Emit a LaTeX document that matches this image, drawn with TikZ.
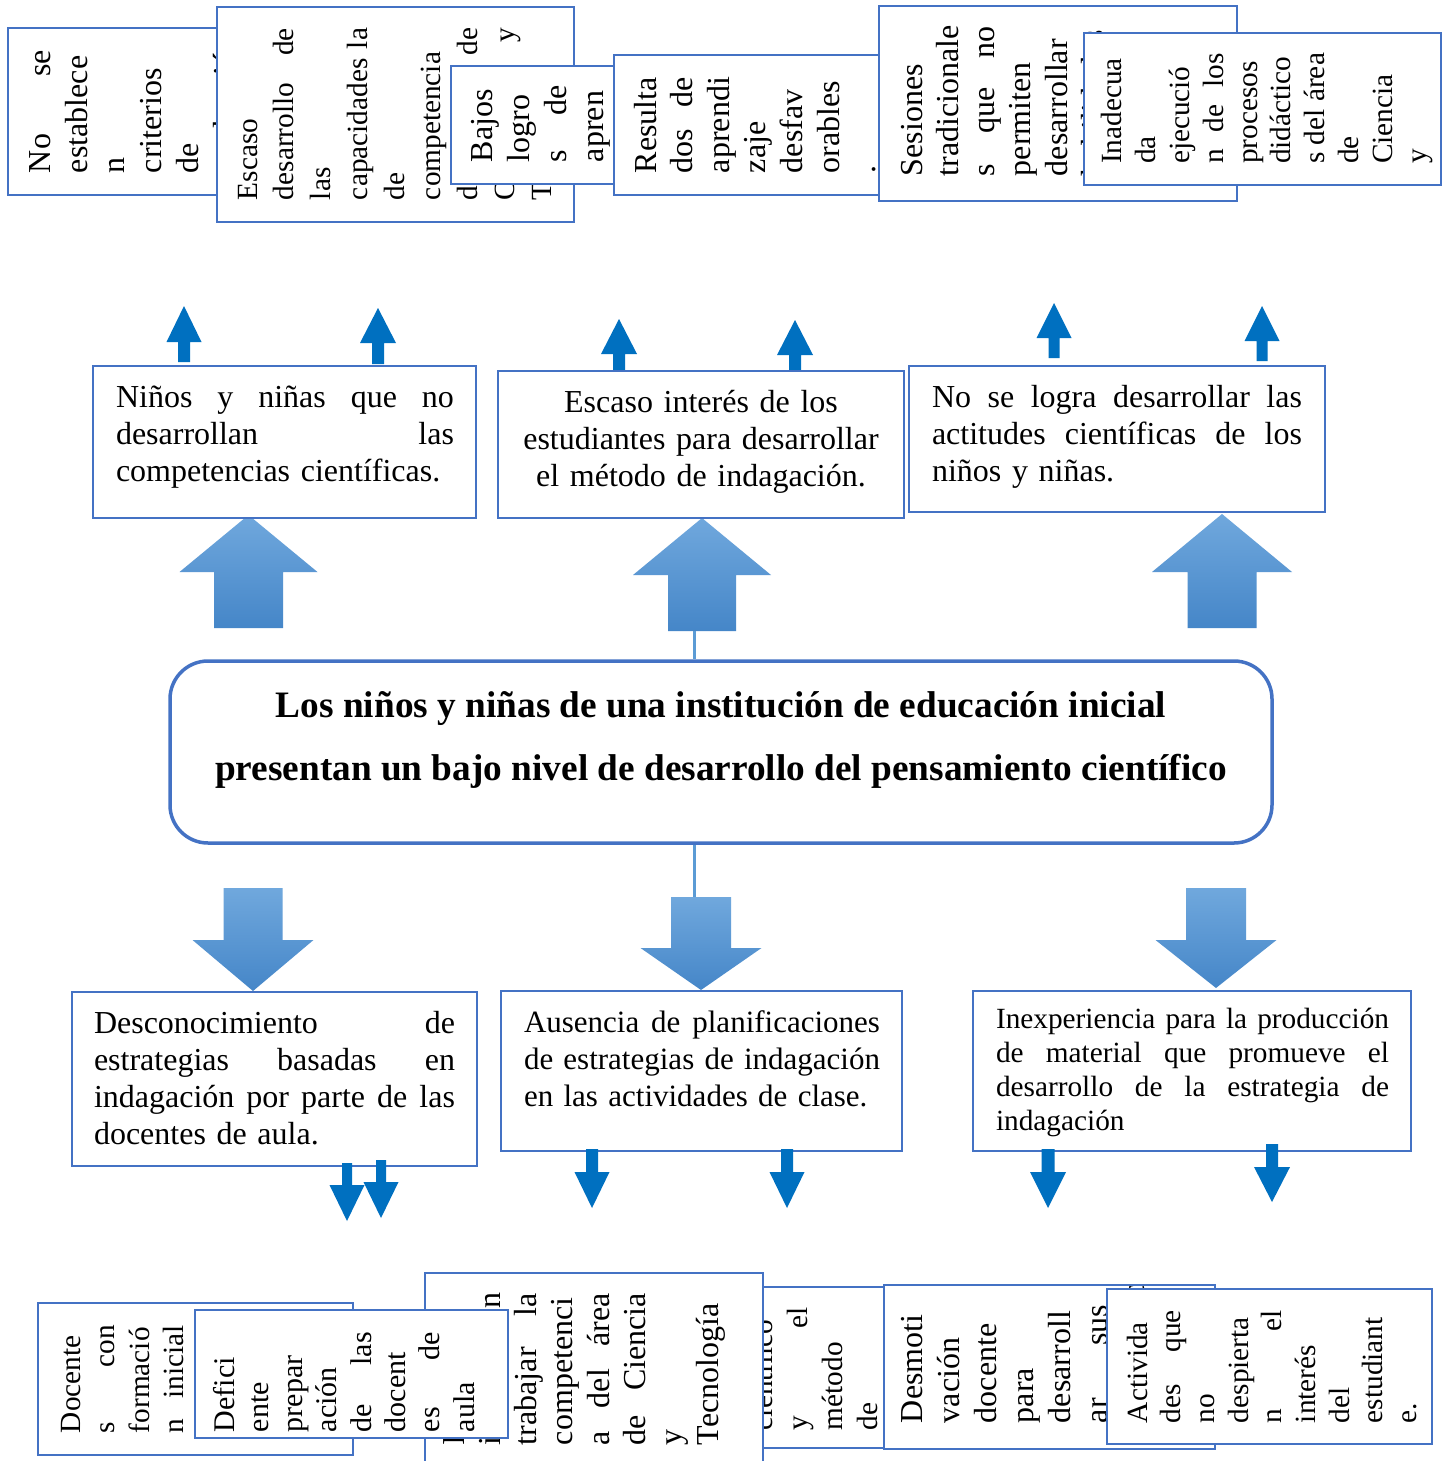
\documentclass[tikz,border=0pt]{standalone}
\usepackage{fontspec}
\setmainfont{Liberation Serif}
\usetikzlibrary{fit}
\definecolor{bordc}{HTML}{4472C4}
\definecolor{arrc}{HTML}{0070C0}
\definecolor{bigtop}{HTML}{70A8DD}
\definecolor{bigbot}{HTML}{4586C8}
\definecolor{connc}{HTML}{5B9BD5}
\newcommand\fs[2]{\fontsize{#1pt}{#2pt}\selectfont}
\newcommand\J[2]{{\spaceskip=0.25em plus 1fil\relax\xspaceskip=\spaceskip\makebox[#1pt][s]{#2}}}
\newcommand\blkarr[7]{\path[#1] (#2,#3) -- (#2+#5,#4) -- (#2+#6,#4) -- (#2+#6,#7) -- (#2-#6,#7) -- (#2-#6,#4) -- (#2-#5,#4) -- cycle;}
\tikzset{
  boxfill/.style={fill=white, draw=none, inner sep=0pt, outer sep=0pt},
  boxline/.style={draw=bordc, line width=2.5pt},
  hbx/.style={fill=white, draw=bordc, line width=2.5pt, inner sep=0pt, outer sep=0pt},
  txt/.style={inner sep=0pt, outer sep=0pt, align=left, anchor=north west},
  rtxt/.style={txt, rotate=90},
  smallarr/.style={fill=arrc, draw=none},
  bigarr/.style={top color=bigtop, bottom color=bigbot, draw=none},
  conn/.style={draw=connc, line width=3pt},
}
\newcommand\rotbox[8]{%
  \node[boxfill, fit={#2 #3}] (#1) {};
  \begin{scope}
    \clip (#1.south west) rectangle (#1.north east);
    \node[rtxt, font=#4, text width=#7pt] (#1t) at (#5,#6) {\strut #8};
  \end{scope}
  \draw[boxline] (#1.south west) rectangle (#1.north east);}
\begin{document}
\begin{tikzpicture}[x=1pt, y=-1pt]
\useasboundingbox (0,0) rectangle (1451,1461);
\clip (0,0) rectangle (1451,1461);
\fill[white] (0,0) rectangle (1451,1461);

% ---------- top row (rotated boxes) ----------
\rotbox{bA}{(8,28)}{(300,195)}{\fs{32}{37}}{24.1}{173}{123}{\J{123}{No se}\\ establece\\ n\\ criterios\\ de\\ evaluación}
\rotbox{bB}{(217,7)}{(574,222)}{\fs{29.3}{36.75}}{231.3}{200}{172}{Escaso\\ \J{172}{desarrollo de}\\ las\\ \J{172}{capacidades la}\\ de\\ competencia\\ \J{172}{del área de}\\ \J{172}{Ciencia y}\\ Tecnología}
\rotbox{bC}{(451,66)}{(614,184)}{\fs{32}{37}}{466.1}{162}{77}{Bajos\\ logro\\ \J{77}{s de}\\ apren}
\rotbox{bD}{(614,55)}{(879,195)}{\fs{32}{36.6}}{630.4}{173}{96}{Resulta\\ \J{96}{dos de}\\ aprendi\\ zaje\\ desfav\\ orables\\ .}
\rotbox{bE}{(879,6)}{(1237,201)}{\fs{32}{36.3}}{896.6}{176}{150}{Sesiones\\ tradicionale\\ \J{150}{s que no}\\ permiten\\ desarrollar\\ habilidades}
\rotbox{bF}{(1084,33)}{(1441,185)}{\fs{29.3}{33.8}}{1098.3}{164}{111}{Inadecua\\ da\\ ejecució\\ \J{111}{n de los}\\ procesos\\ didáctico\\ \J{111}{s del área}\\ de\\ Ciencia\\ y}

% ---------- small up arrows ----------
\blkarr{smallarr}{184}{306}{342}{17.5}{6}{362}
\blkarr{smallarr}{378}{308}{343}{18}{6}{364}
\blkarr{smallarr}{619}{319}{354}{18}{6}{371}
\blkarr{smallarr}{795}{320}{355}{18}{6}{371}
\blkarr{smallarr}{1054}{303}{338}{17.5}{5.5}{358}
\blkarr{smallarr}{1262}{306}{341}{17.5}{5.5}{361}

% ---------- big arrows ----------
\blkarr{bigarr}{248.5}{515}{572}{69}{34.5}{628}
\blkarr{bigarr}{702}{518}{575}{69}{34}{631}
\blkarr{bigarr}{1222}{514}{572}{70}{34.5}{628}
\blkarr{bigarr}{253}{991}{940}{60.5}{29.5}{888}
\blkarr{bigarr}{701}{990}{948}{60.5}{30}{897}
\blkarr{bigarr}{1216}{988}{940}{60.5}{30}{888}

% ---------- effect boxes ----------
\node[hbx, fit={(93,366) (476,518)}] (e1) {};
\node[txt, font=\fs{32}{37}, text width=338pt] (e1t) at (116,381.1)
  {\strut\J{338}{Niños y niñas que no}\\ \J{338}{desarrollan las}\\ competencias científicas.};
\node[hbx, fit={(498,371) (904,518)}] (e2) {};
\node[txt, anchor=north, align=center, font=\fs{32}{37}, text width=400pt] (e2t) at (701,386.1)
  {\strut Escaso interés de los\\ estudiantes para desarrollar\\ el método de indagación.};
\node[hbx, fit={(909,366) (1325,512)}] (e3) {};
\node[txt, font=\fs{32}{37}, text width=370pt] (e3t) at (932,381.1)
  {\strut\J{370}{No se logra desarrollar las}\\ \J{370}{actitudes científicas de los}\\ niños y niñas.};

% ---------- central problem ----------
\node[draw=bordc, line width=3.5pt, rounded corners=38pt, fill=white, inner sep=0pt, fit={(170,661) (1272,843)}] (title) {};
\node[inner sep=0pt, anchor=north, align=center, font={\fs{37.3}{63}\bfseries}] (ttl) at (721,672.9)
  {\strut Los niños y niñas de una institución de educación inicial\\ presentan un bajo nivel de desarrollo del pensamiento científico};
\coordinate (ua2b) at (694,631);
\coordinate (da2t) at (694,897);
\draw[conn] (ua2b) -- (ua2b |- title.north);
\draw[conn] (title.south -| da2t) -- (da2t);

% ---------- cause boxes ----------
\node[hbx, fit={(72,992) (477,1166)}] (c1) {};
\node[txt, font=\fs{32}{37}, text width=361pt] (c1t) at (94,1007.1)
  {\strut\J{361}{Desconocimiento de}\\ \J{361}{estrategias basadas en}\\ \J{361}{indagación por parte de las}\\ docentes de aula.};
\node[hbx, fit={(501,991) (902,1151)}] (c2) {};
\node[txt, font=\fs{31}{37}, text width=356pt] (c2t) at (524,1006.1)
  {\strut\J{356}{Ausencia de planificaciones}\\ \J{356}{de estrategias de indagación}\\ en las actividades de clase.};
\node[hbx, fit={(973,991) (1411,1151)}] (c3) {};
\node[txt, font=\fs{29.3}{34}, text width=393pt] (c3t) at (996,1004.2)
  {\strut\J{393}{Inexperiencia para la producción}\\ \J{393}{de material que promueve el}\\ \J{393}{desarrollo de la estrategia de}\\ indagación};

% ---------- small down arrows ----------
\blkarr{smallarr}{347}{1221}{1185}{17.5}{5}{1163}
\blkarr{smallarr}{381}{1218}{1182}{17.5}{5}{1160}
\blkarr{smallarr}{592}{1208}{1172}{17.5}{6}{1149}
\blkarr{smallarr}{787}{1208}{1172}{17.5}{6}{1149}
\blkarr{smallarr}{1048}{1208}{1172}{18}{6.5}{1149}
\blkarr{smallarr}{1272}{1202}{1167}{18}{6}{1144}

% ---------- bottom row (rotated boxes) ----------
\rotbox{bG}{(38,1303)}{(353,1455)}{\fs{29.3}{34.5}}{55.85}{1433}{108}{Docente\\ \J{108}{s con}\\ formació\\ \J{108}{n inicial}\\ científica}
\rotbox{bI}{(425,1273)}{(763,1480)}{\fs{32}{36.3}}{438.6}{1445}{152}{Interés\\ \J{152}{inicial en}\\ \J{152}{trabajar la}\\ competenci\\ \J{152}{a del área}\\ \J{152}{de Ciencia}\\ y\\ Tecnología}
\rotbox{bH}{(195,1310)}{(508,1438)}{\fs{30}{34.3}}{210}{1432}{100}{Defici\\ ente\\ prepar\\ ación\\ \J{100}{de las}\\ docent\\ \J{100}{es de}\\ aula}
\rotbox{bJ}{(763,1287)}{(962,1448)}{\fs{29.3}{35}}{747.5}{1430}{123}{científico\\ \J{123}{y el}\\ método\\ de\\ indagación}
\rotbox{bK}{(884,1285)}{(1215,1449)}{\fs{32}{37}}{896.1}{1423}{118}{Desmoti\\ vación\\ docente\\ para\\ desarroll\\ \J{118}{ar sus}\\ competencias}
\rotbox{bL}{(1107,1289)}{(1432,1444)}{\fs{29.3}{33.7}}{1123.4}{1423}{113}{Activida\\ \J{113}{des que}\\ no\\ despierta\\ \J{113}{n el}\\ interés\\ del\\ estudiant\\ e.}
\end{tikzpicture}
\end{document}
